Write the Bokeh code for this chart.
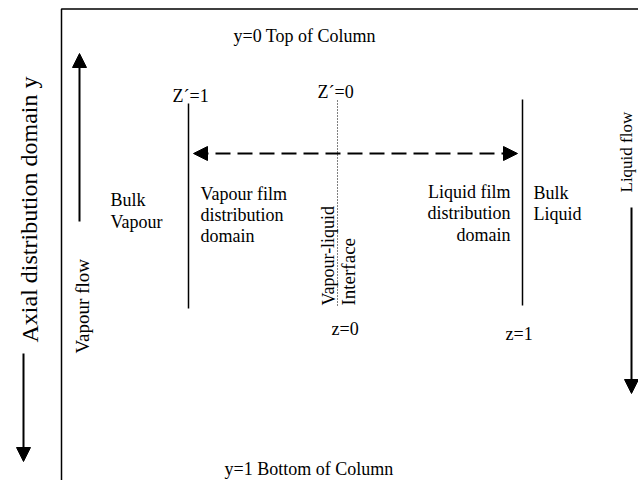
from bokeh.plotting import figure
from bokeh.models import Range1d, Arrow, NormalHead
from bokeh.core.properties import value
from bokeh.embed import file_html
from bokeh.resources import INLINE

FONT = value("Liberation Serif")

# ---- diagram layout data (reference pixel coordinates) ----
box_x = [61, 61, 638]
box_y = [480, 8.5, 8.5]

# vertical domain boundary lines
bound_x = [188, 522]
bound_y0 = [103, 99]
bound_y1 = [308, 305]

# interface dotted line
iface_x = [337, 337]
iface_y = [100, 305]

# horizontal texts
h_texts = ["y=0 Top of Column", "Z\u00b4=1", "Z\u00b4=0", "Bulk", "Vapour",
           "Vapour film", "distribution", "domain",
           "Liquid film", "distribution", "domain",
           "Bulk", "Liquid", "z=0", "z=1", "y=1 Bottom of Column"]
h_x = [233, 172, 317, 110, 110,
       200, 200, 200,
       510, 510, 510,
       533, 533, 331, 505, 224]
h_y = [35, 95, 91, 199, 221,
       193, 214, 235,
       191, 212, 234,
       192, 213, 328, 333, 468]
h_align = ["left", "left", "left", "left", "left",
           "left", "left", "left",
           "right", "right", "right",
           "left", "left", "left", "left", "left"]

# rotated texts
v_texts = ["Vapour flow", "Vapour-liquid", "Interface", "Liquid flow"]
v_x = [82, 328, 348, 626]
v_y = [353, 305, 305, 192]
v_size = ["19px", "18px", "19px", "17px"]

axis_label = "Axial distribution domain y"

p = figure(width=638, height=480, output_backend="svg", toolbar_location=None,
           x_range=Range1d(0, 638), y_range=Range1d(480, 0),
           min_border=0, outline_line_color=None)
p.axis.visible = False
p.grid.visible = False
p.background_fill_color = "white"

# frame
p.line(box_x, box_y, line_color="black", line_width=1.5)

# boundaries
p.segment(x0=bound_x, y0=bound_y0, x1=bound_x, y1=bound_y1,
          line_color="black", line_width=1.5)
p.line(iface_x, iface_y, line_color="black", line_width=1, line_dash="1 2")

# arrows
def arrow(x0, y0, x1, y1, width=2, dash="solid", start=False):
    a = Arrow(x_start=x0, y_start=y0, x_end=x1, y_end=y1,
              line_width=width, line_color="black", line_dash=dash,
              end=NormalHead(size=14, fill_color="black", line_color="black", line_width=1))
    if start:
        a.start = NormalHead(size=14, fill_color="black", line_color="black", line_width=1)
    p.add_layout(a)

arrow(79, 221, 79, 53)            # vapour flow up
arrow(23, 353, 23, 461)           # axial domain down
arrow(631, 207, 631, 393)         # liquid flow down
arrow(193, 153, 517, 153, width=2, dash="15 7", start=True)

# horizontal texts
p.text(x=h_x, y=h_y, text=h_texts, text_align=h_align, text_baseline="alphabetic",
       text_font=FONT, text_font_size="18px", text_color="black")

# rotated texts
for t, x, y, s in zip(v_texts, v_x, v_y, v_size):
    p.text(x=[x], y=[y], text=[t], angle=1.5708, text_align="left",
           text_baseline="alphabetic", text_font=FONT, text_font_size=s,
           text_color="black")

p.text(x=[29], y=[342], text=[axis_label], angle=1.5708, text_align="left",
       text_baseline="alphabetic", text_font=FONT, text_font_size="24px",
       text_color="black")

open("out.html", "w").write(file_html(p, INLINE))
